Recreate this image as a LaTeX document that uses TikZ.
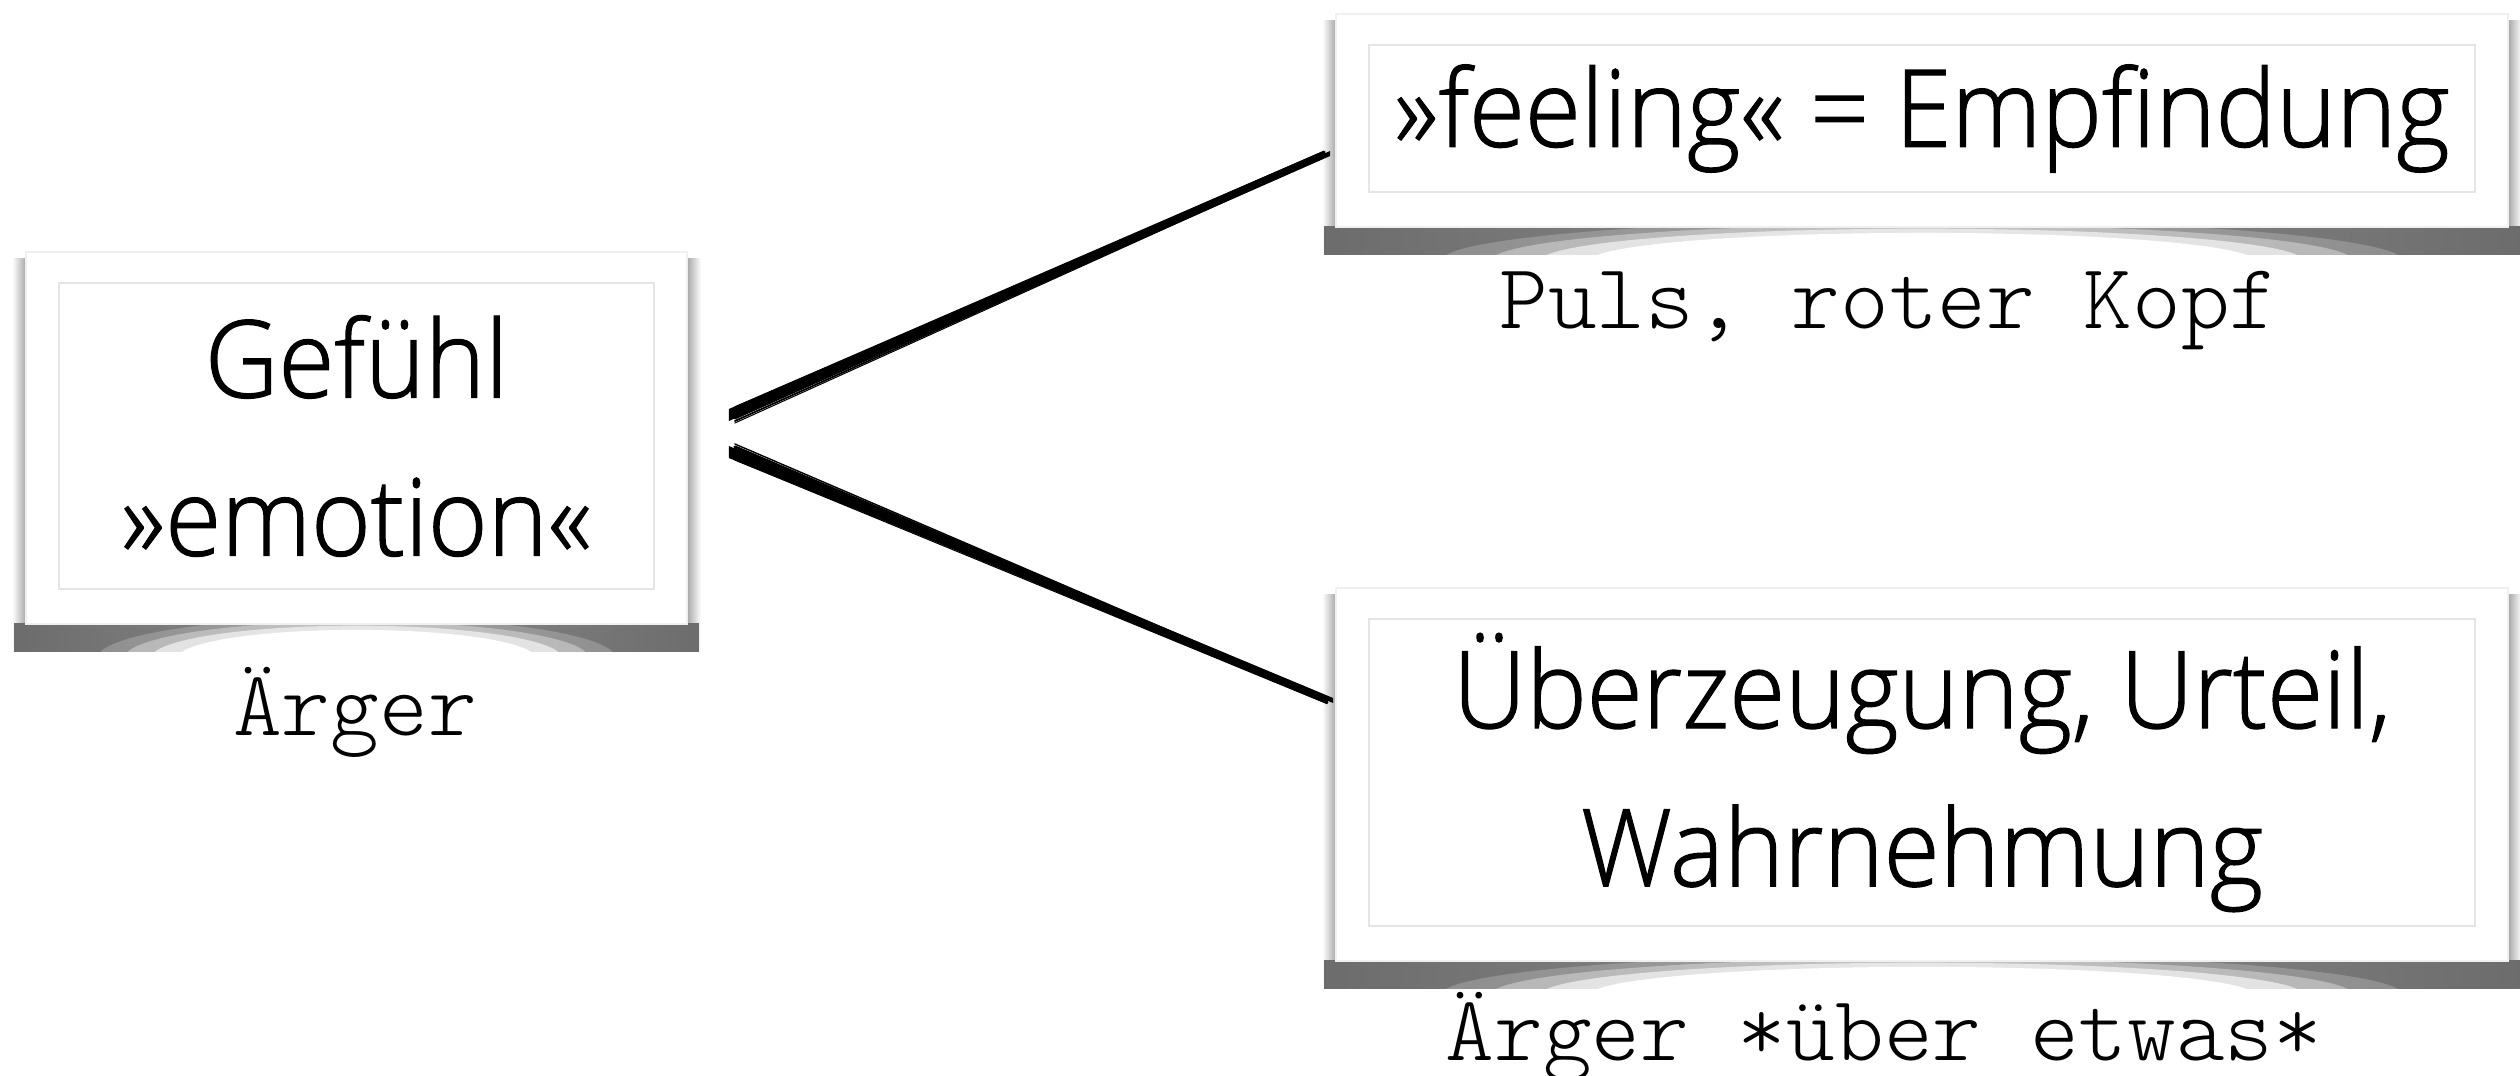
\documentclass[tikz,border=0pt]{standalone}
\usepackage{fontspec}
\IfFontExistsTF{Open Sans Light}
  {\newfontfamily\cardfont{Open Sans Light}[FakeStretch=0.95, FakeBold=1.2]}
  {\newfontfamily\cardfont{Open Sans}[FakeStretch=0.9]}
\IfFontExistsTF{Latin Modern Mono Light}
  {\newfontfamily\notefont{Latin Modern Mono Light}}
  {\newfontfamily\notefont{Latin Modern Mono}}
\usetikzlibrary{calc,positioning}

\pgfdeclarelayer{bg}
\pgfsetlayers{bg,main}

% shadow under a card: dark near the ends, light in the middle
\pgfdeclarehorizontalshading{curl}{100bp}{color(0bp)=(black!25); color(16bp)=(black!62);
  color(50bp)=(black!45); color(84bp)=(black!62); color(100bp)=(black!25)}

\tikzset{
  card/.style={draw=black!10, line width=0.5pt, fill=white, align=center, inner sep=0pt,
    font=\cardfont\fontsize{30.5}{45}\selectfont},
  note/.style={font=\notefont\fontsize{26.4}{30}\selectfont, anchor=base, inner sep=0pt},
  brush/.style={black, line cap=round},
}

% white frame + curled shadow round a card node (#2 = its width)
\newcommand\cardframe[2]{%
  \begin{pgfonlayer}{bg}
    \fill[left color=white, right color=black!35] ($(#1.north west)+(-46,-24)$) rectangle ($(#1.south west)+(-32,62)$);
    \fill[left color=black!35, right color=white] ($(#1.north east)+(32,-24)$) rectangle ($(#1.south east)+(46,62)$);
    \begin{scope}
      \clip ($(#1.south west)+(-44,34)$) rectangle ($(#1.south east)+(44,62)$);
      \fill[shading=curl] ($(#1.south west)+(-44,34)$) rectangle ($(#1.south east)+(44,62)$);
      \foreach \k/\o in {1.45/0.2,1.3/0.35,1.15/0.6,1.0/1}
        \fill[white, opacity=\o] ($(#1.south)+(0,68)$) ellipse [x radius=0.3*\k*#2, y radius=\k*28];
    \end{scope}
    \fill[white, draw=black!6] ($(#1.north west)+(-32,-30)$) rectangle ($(#1.south east)+(32,34)$);
  \end{pgfonlayer}}

\begin{document}
\begin{tikzpicture}[x=0.1mm, y=-0.1mm]
  \useasboundingbox (0,0) rectangle (2520,1076);

  \node[card, minimum width=5.95cm, minimum height=3.06cm] (gefuehl) at (356.5,436)
    {Gefühl\\»emotion«};
  \node[card, minimum width=11.06cm, minimum height=1.47cm] (feeling) at (1922,118.5)
    {»feeling« = Empfindung};
  \node[card, minimum width=11.06cm, minimum height=3.07cm] (urteil) at (1922,772.5)
    {Überzeugung, Urteil,\\Wahrnehmung};
  \foreach \c/\w in {gefuehl/595,feeling/1106,urteil/1106}
    \cardframe{\c}{\w};

  \node[note] (aerger) at (355,735) {Ärger};
  \node[note] (puls) at (1889,328) {Puls, roter Kopf};
  \node[note] (ueber) at (1884,1060) {Ärger *über etwas*};

  % brush strokes
  \coordinate (s1) at ($(gefuehl.east)+(72,-21)$);
  \coordinate (e1) at ($(feeling.west)+(-38,35.5)$);
  \coordinate (s2) at ($(gefuehl.east)+(72,16)$);
  \coordinate (e2) at ($(urteil.west)+(-35,-71.5)$);
  \foreach \s/\e in {s1/e1,s2/e2} {
    \fill[brush] ($(\s)+(2,-6)$) -- ($(\e)+(0,-3)$) -- ($(\e)+(0,2)$) -- ($(\s)+(2,6)$) -- cycle;
    \foreach \d/\w in {-8/0.4pt,-5/0.9pt,-2/0.6pt,3/0.8pt,6/0.5pt,8/0.3pt}
      \draw[brush, line width=\w] ($(\s)+(8,\d)$) -- ($(\e)+(-6,\d/3)$);
  }
\end{tikzpicture}
\end{document}
